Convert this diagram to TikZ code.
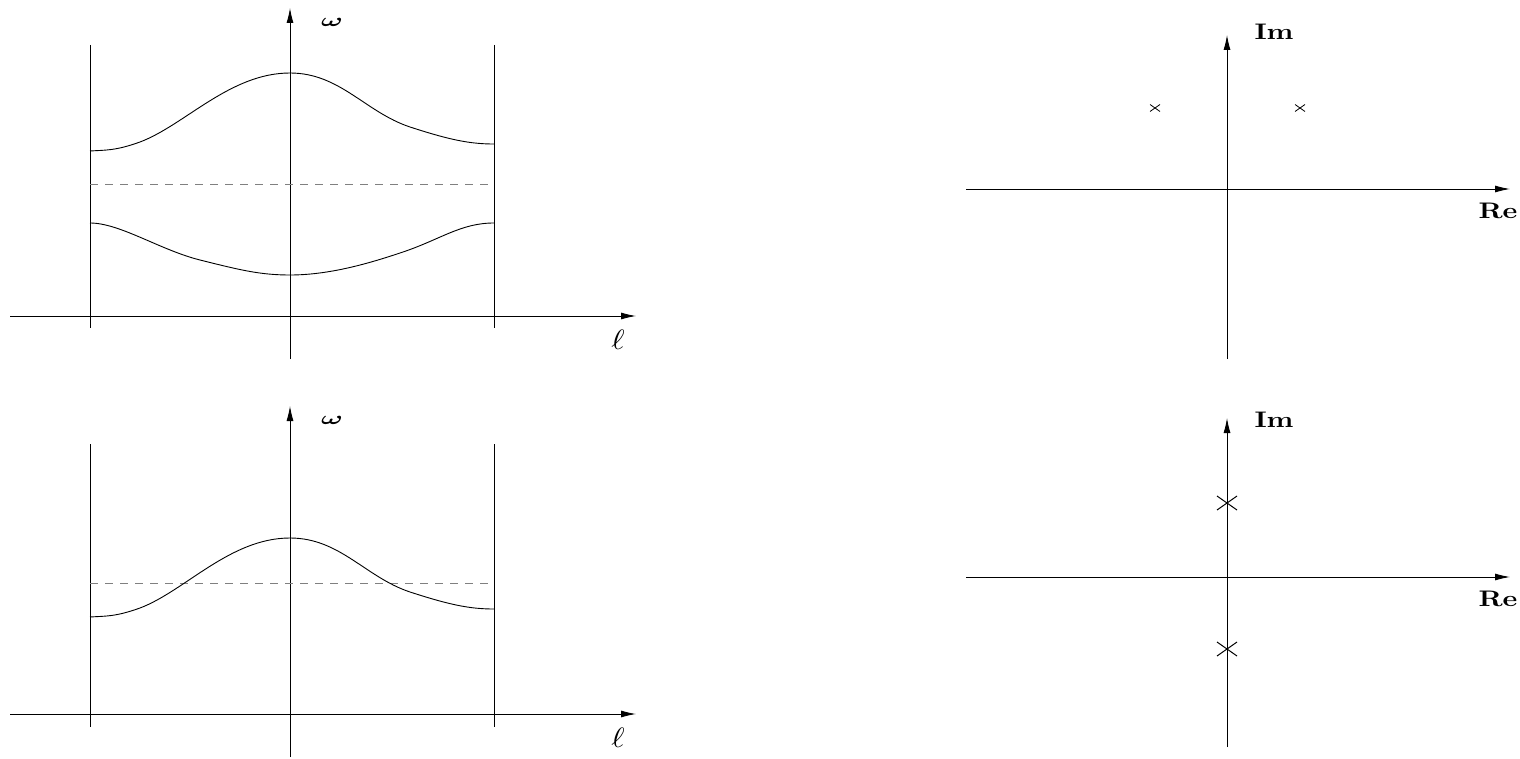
\documentclass[tikz,border=0pt]{standalone}
\usepackage{graphicx}
\usepackage{amsmath,bm}
\usetikzlibrary{arrows.meta}
\newcommand{\txtlbl}[1]{\scalebox{2.8}[2.25]{\bfseries #1}}
\newcommand{\omlbl}{\scalebox{2.9}[1.85]{$\bm{\omega}$}}
\newcommand{\elllbl}{\scalebox{3.2}[2.8]{$\ell$}}
\begin{document}
\begin{tikzpicture}[x=1pt,y=-1pt,
  line width=0.9pt,
  axis/.style={-{Latex[length=15pt,width=7pt]}},
  dashline/.style={gray,dash pattern=on 8pt off 7pt},
  lbl/.style={inner sep=0pt},
  smallx/.style={line width=0.8pt},
  bigx/.style={line width=1pt}]
\useasboundingbox (0,0) rectangle (1520,759);
% ---------- top left ----------
\coordinate (h1a) at (10,316); \coordinate (h1b) at (636,316);
\coordinate (v1a) at (290,359); \coordinate (v1b) at (290,8);
\draw[axis] (h1a) -- (h1b);
\draw[axis] (v1a) -- (v1b);
\node[lbl] (w1) at (332,22) {\omlbl};
\node[lbl] (l1) at (618,340) {\elllbl};
\coordinate (L1a) at (90,45); \coordinate (L1b) at (90,328);
\coordinate (R1a) at (494,45); \coordinate (R1b) at (494,328);
\draw (L1a) -- (L1b);
\draw (R1a) -- (R1b);
\draw[dashline] (90,184) -- (494,184);
\draw (90,151) .. controls (105,150) and (115,151) .. (140,142)
  .. controls (185,125) and (230,73) .. (290,73)
  .. controls (340,73) and (365,112) .. (410,127)
  .. controls (450,140) and (470,144) .. (494,144);
\draw (90,223) .. controls (120,223) and (160,250) .. (200,260)
  .. controls (240,270) and (260,275) .. (290,275)
  .. controls (330,275) and (370,263) .. (400,253)
  .. controls (440,240) and (460,223) .. (494,223);
% ---------- bottom left ----------
\coordinate (h2a) at (10,714); \coordinate (h2b) at (636,714);
\coordinate (v2a) at (290,757); \coordinate (v2b) at (290,406);
\draw[axis] (h2a) -- (h2b);
\draw[axis] (v2a) -- (v2b);
\node[lbl] (w2) at (332,420) {\omlbl};
\node[lbl] (l2) at (618,738) {\elllbl};
\coordinate (L2a) at (90,444); \coordinate (L2b) at (90,727);
\coordinate (R2a) at (494,444); \coordinate (R2b) at (494,727);
\draw (L2a) -- (L2b);
\draw (R2a) -- (R2b);
\draw[dashline] (90,583) -- (494,583);
\draw (90,617) .. controls (105,616) and (115,617) .. (140,608)
  .. controls (185,591) and (230,538) .. (290,538)
  .. controls (340,538) and (365,577) .. (410,592)
  .. controls (450,605) and (470,609) .. (494,609);
% ---------- top right ----------
\coordinate (h3a) at (966,189); \coordinate (h3b) at (1510,189);
\coordinate (v3a) at (1227,359); \coordinate (v3b) at (1227,35);
\draw[axis] (h3a) -- (h3b);
\draw[axis] (v3a) -- (v3b);
\node[lbl] (im1) at (1274,32) {\txtlbl{Im}};
\node[lbl] (re1) at (1498,211) {\txtlbl{Re}};
\coordinate (p1) at (1155,108); \coordinate (p2) at (1300,108);
\foreach \p in {p1,p2}{
  \draw[smallx] ([shift={(-5,-3.5)}]\p) -- ([shift={(5,3.5)}]\p);
  \draw[smallx] ([shift={(-5,3.5)}]\p) -- ([shift={(5,-3.5)}]\p);
}
% ---------- bottom right ----------
\coordinate (h4a) at (966,577); \coordinate (h4b) at (1510,577);
\coordinate (v4a) at (1227,747); \coordinate (v4b) at (1227,418);
\draw[axis] (h4a) -- (h4b);
\draw[axis] (v4a) -- (v4b);
\node[lbl] (im2) at (1274,420) {\txtlbl{Im}};
\node[lbl] (re2) at (1498,599) {\txtlbl{Re}};
\coordinate (p3) at (1227,503); \coordinate (p4) at (1227,649);
\foreach \p in {p3,p4}{
  \draw[bigx] ([shift={(-10,-7)}]\p) -- ([shift={(10,7)}]\p);
  \draw[bigx] ([shift={(-10,7)}]\p) -- ([shift={(10,-7)}]\p);
}
\end{tikzpicture}
\end{document}
